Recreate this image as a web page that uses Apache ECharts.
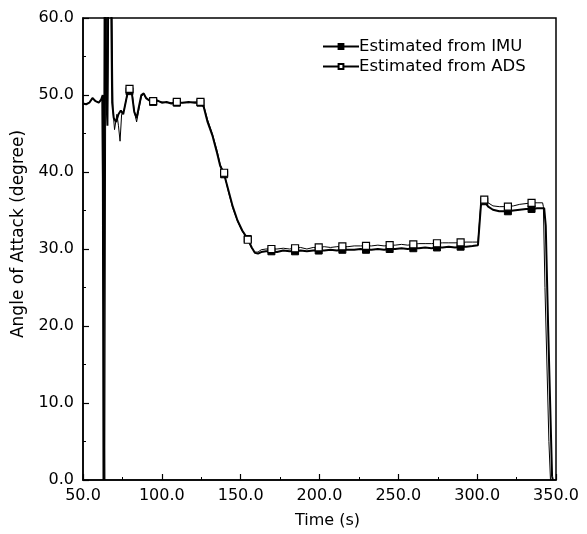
<!DOCTYPE html>
<html><head><meta charset="utf-8">
<script src="https://cdn.jsdelivr.net/npm/echarts@6/dist/echarts.min.js"></script>
<style>html,body{margin:0;padding:0;background:#fff}#c{width:587px;height:534px}</style>
</head><body><div id="c"></div>
<script>
// Time (s), Angle of attack (degree)
var imuData = [
 [50,48.9],[52,48.8],[54,49.0],[56,49.6],[58,49.2],[60,49.0],[61.5,49.4],[62.5,50.0],
 [63.0,0],[63.5,0],[63.8,70],[64.4,70],[64.8,50],[65.5,46],[66.2,70],[67.5,70],[68.5,49],
 [69.5,47],[71,46.5],[72.5,47.5],[74,48],[75.5,47.5],[77,49],[78.5,50.5],[79.5,50.5],
 [81,50.2],[82.5,47.8],[84,47],[85.5,48.5],[87,50],[88.5,50.2],[90,49.6],[92,49.3],
 [94.5,49.1],[97,49.3],[100,49.0],[103,49.1],[106,48.9],[109.5,49.0],[113,49.0],[117,49.1],
 [121,49.0],[124.5,49.0],[126.5,48.5],[129,46.5],[132,44.8],[135,42.5],[137,40.8],[139.5,39.7],
 [142,37.8],[145,35.5],[148,33.7],[151,32.4],[154.5,31.3],[157,30.2],[159,29.5],[161,29.4],
 [163,29.6],[166,29.7],[169.5,29.7],[173,29.6],[177,29.8],[181,29.7],[184.5,29.7],[188,29.8],
 [192,29.7],[196,29.8],[199.5,29.8],[203,29.8],[207,29.9],[211,29.8],[214.5,29.9],[218,29.9],
 [222,29.9],[226,30.0],[229.5,29.9],[233,29.9],[237,30.0],[241,29.9],[244.5,30.0],[248,30.0],
 [252,30.1],[256,30.0],[259.5,30.1],[263,30.1],[267,30.2],[271,30.1],[274.5,30.2],[278,30.2],
 [282,30.3],[286,30.2],[289.5,30.3],[293,30.3],[297,30.4],[300.5,30.5],[302.5,36.0],[304.5,36.2],
 [307,35.5],[310,35.1],[314,34.9],[317,34.9],[319.5,34.9],[323,35.0],[327,35.1],[331,35.2],
 [334.5,35.2],[338,35.3],[342.5,35.3],[343.5,33],[345,20],[347.5,0.5],[348,0]
];
var adsData = [
 [50,48.9],[52,48.8],[54,49.0],[56,49.6],[58,49.2],[60,49.0],[62,49.5],
 [63.8,0],[64.3,0],[64.6,70],[65,70],[65.5,47],[66.5,70],[68,70],[69,48],
 [70,45.5],[71.5,47.5],[72.5,46],[73.5,44],[74.5,47.5],[76,48],[77.5,49.5],[79.5,50.8],
 [81,50.5],[82.5,48],[84,46.5],[85.5,48.2],[87,49.8],[88.5,50.1],[90,49.6],[92,49.2],
 [94.5,49.2],[97,49.2],[100,49.1],[103,49.0],[106,49.0],[109.5,49.1],[113,49.0],[117,49.0],
 [121,49.1],[124.5,49.1],[126.5,48.7],[129,46.8],[132,45.0],[135,42.8],[137,41.0],[139.5,39.9],
 [142,37.6],[145,35.3],[148,33.6],[151,32.3],[154.5,31.2],[157,30.1],[159,29.6],[161,29.6],
 [163,29.9],[166,30.0],[169.5,30.0],[173,30.0],[177,30.1],[181,30.0],[184.5,30.1],[188,30.2],
 [192,30.0],[196,30.2],[199.5,30.2],[203,30.3],[207,30.2],[211,30.3],[214.5,30.35],[218,30.3],
 [222,30.4],[226,30.4],[229.5,30.4],[233,30.4],[237,30.5],[241,30.4],[244.5,30.5],[248,30.5],
 [252,30.6],[256,30.5],[259.5,30.6],[263,30.7],[267,30.7],[271,30.7],[274.5,30.75],[278,30.8],
 [282,30.8],[286,30.8],[289.5,30.85],[293,30.9],[297,30.9],[300.5,30.9],[302.5,36.3],[304.5,36.4],
 [307,36.0],[310,35.6],[314,35.5],[317,35.5],[319.5,35.5],[323,35.6],[327,35.8],[331,35.9],
 [334.5,36.0],[338,36.0],[341.5,36.0],[342,35.5],[343,25],[345.5,5],[346.5,0]
];
var markerTimes = [79.5,94.5,109.5,124.5,139.5,154.5,169.5,184.5,199.5,214.5,229.5,244.5,259.5,274.5,289.5,304.5,319.5,334.5];
var seriesNames = ['Estimated from IMU','Estimated from ADS'];
var xName = 'Time (s)';
var yName = 'Angle of Attack (degree)';

function build(arr){
  return arr.map(function(p){
    var m = markerTimes.indexOf(p[0]) >= 0;
    return m ? {value:p} : {value:p, symbol:'none'};
  });
}
var font = 'DejaVu Sans, sans-serif';
var chart = echarts.init(document.getElementById('c'), null, {renderer:'canvas'});
chart.setOption({
  animation:false,
  backgroundColor:'#fff',
  grid:{left:83,right:31,top:18,bottom:48,show:true,borderColor:'#000',borderWidth:1.5,backgroundColor:'transparent'},
  legend:{
    orient:'vertical', left:317, top:33, itemWidth:36, itemHeight:6, itemGap:3,
    textStyle:{fontFamily:font,fontSize:16.5,color:'#000',padding:[0,0,0,-5]},
    data:seriesNames
  },
  xAxis:{
    type:'value', min:50, max:350, interval:50,
    name:xName, nameLocation:'middle', nameGap:33,
    nameTextStyle:{fontFamily:font,fontSize:16,color:'#000',padding:[0,0,0,16]},
    axisLine:{show:true,lineStyle:{color:'#000',width:1.5}},
    axisTick:{show:true,inside:true,length:6,lineStyle:{color:'#000',width:1.2}},
    minorTick:{show:true,splitNumber:2,length:3,lineStyle:{color:'#000',width:1}},
    axisLabel:{fontFamily:font,fontSize:16,color:'#000',margin:8,formatter:function(v){return v.toFixed(1);}},
    splitLine:{show:false}
  },
  yAxis:{
    type:'value', min:0, max:60, interval:10,
    name:yName, nameLocation:'middle', nameGap:56, nameRotate:90,
    nameTextStyle:{fontFamily:font,fontSize:17,color:'#000',padding:[0,0,0,30]},
    axisLine:{show:true,lineStyle:{color:'#000',width:1.5}},
    axisTick:{show:true,inside:true,length:6,lineStyle:{color:'#000',width:1.2}},
    minorTick:{show:true,splitNumber:2,length:3,lineStyle:{color:'#000',width:1}},
    axisLabel:{fontFamily:font,fontSize:16,color:'#000',margin:9,formatter:function(v){return v.toFixed(1);}},
    splitLine:{show:false}
  },
  series:[
    {name:seriesNames[0],type:'line',data:build(imuData),symbol:'rect',symbolSize:7,showAllSymbol:true,
     lineStyle:{color:'#000',width:2},itemStyle:{color:'#000',borderColor:'#000',borderWidth:1},z:3},
    {name:seriesNames[1],type:'line',data:build(adsData),symbol:'rect',symbolSize:7,showAllSymbol:true,
     lineStyle:{color:'#000',width:1},itemStyle:{color:'#fff',borderColor:'#000',borderWidth:1.2},z:4}
  ]
});
</script></body></html>
